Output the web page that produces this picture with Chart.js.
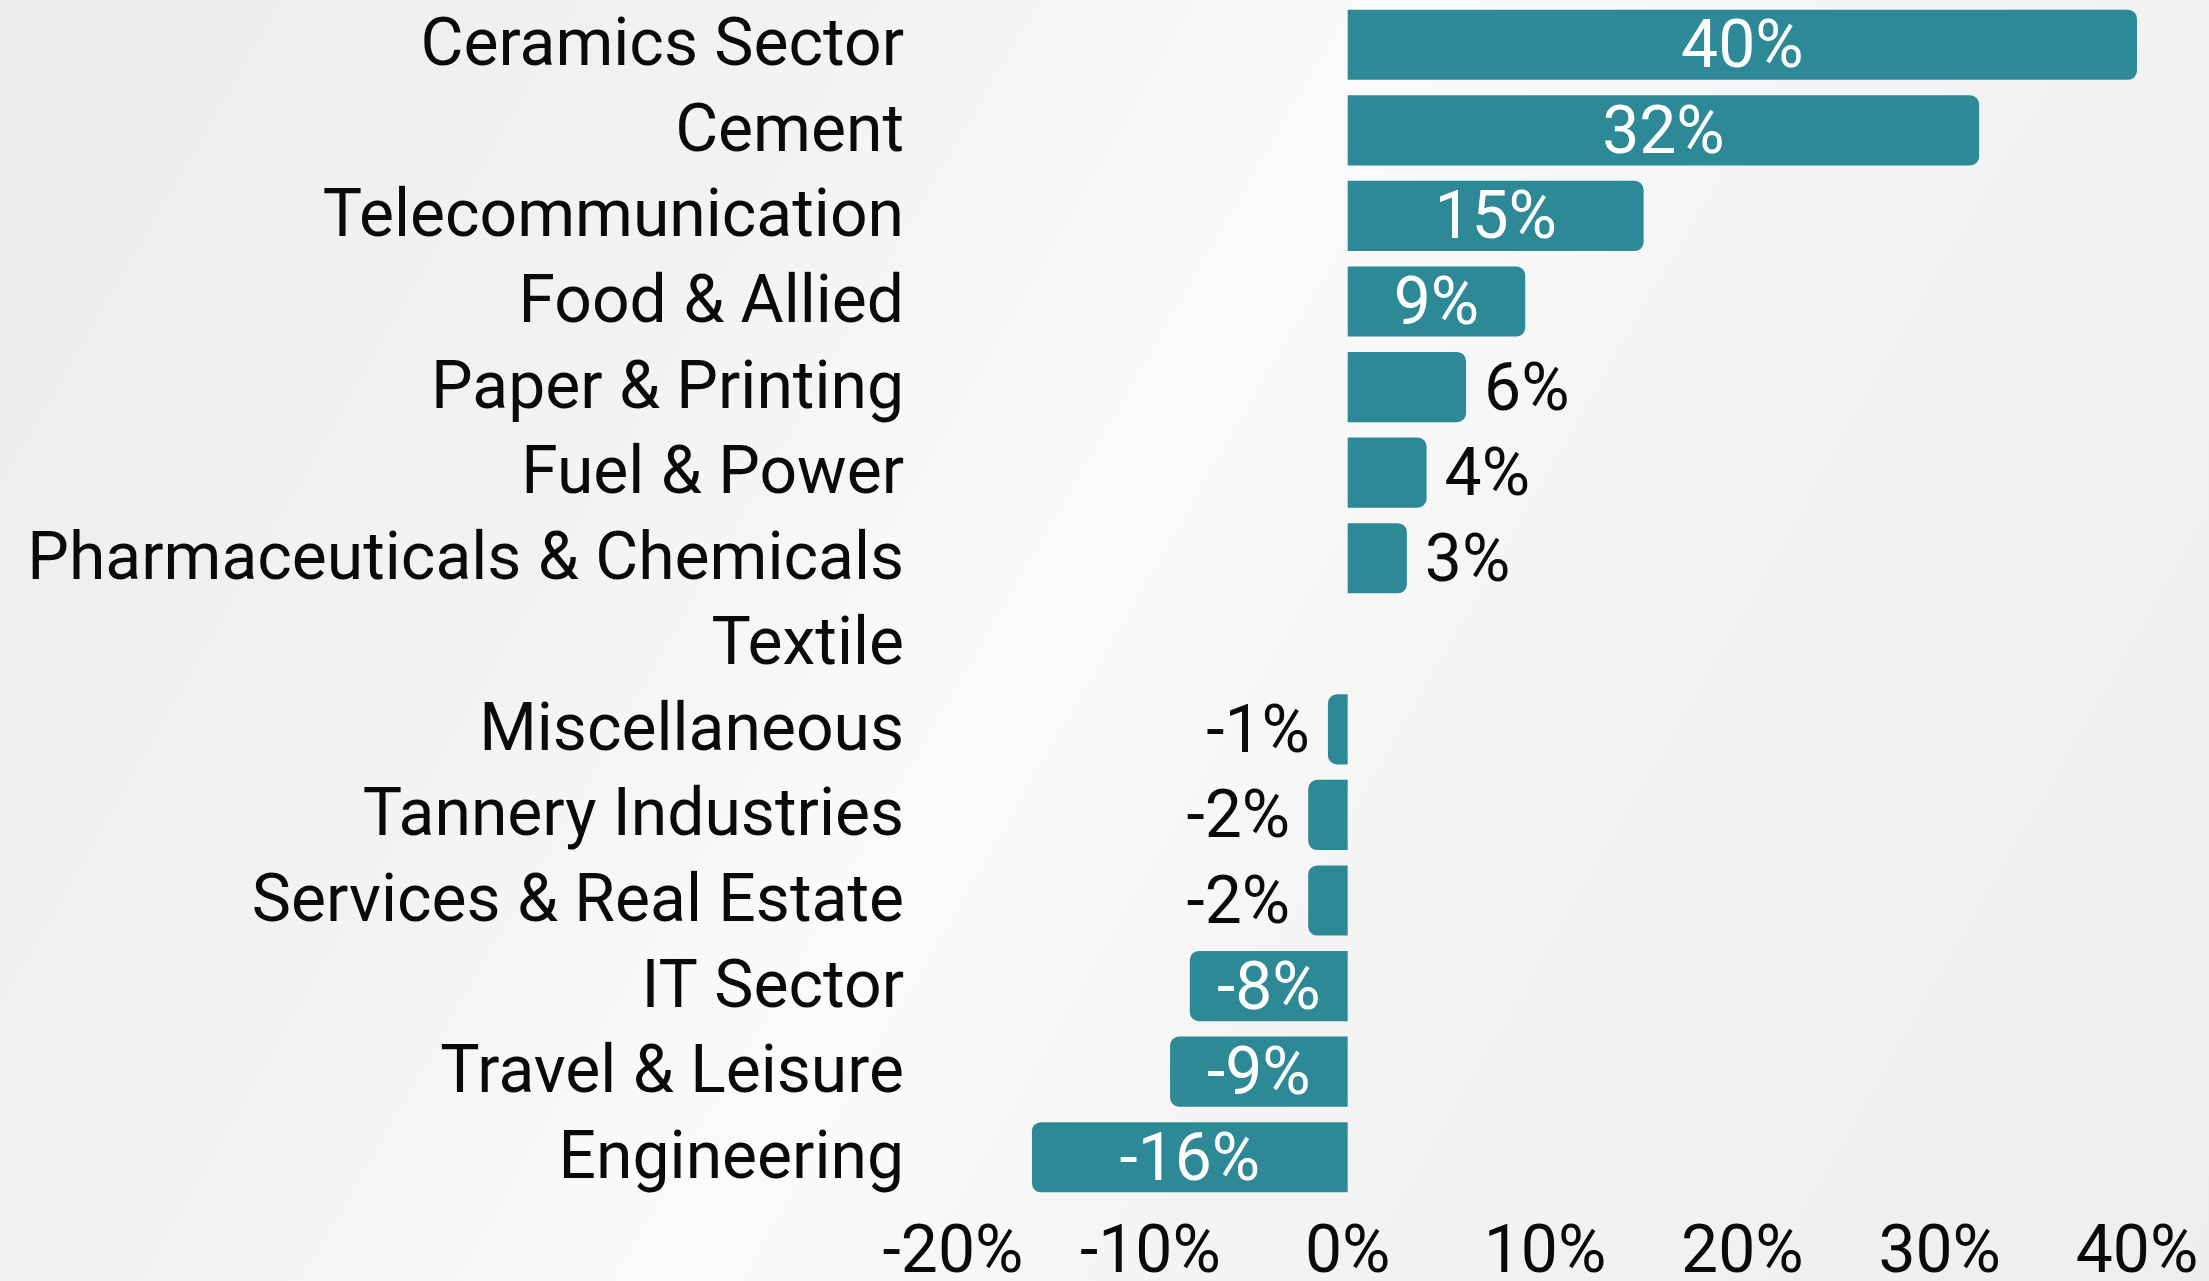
<!DOCTYPE html>
<html lang="en">
<head>
    <meta charset="UTF-8">
    <title>Sector Returns</title>
    <script src="https://cdn.jsdelivr.net/npm/chart.js"></script>
    <style>
        html, body { margin: 0; padding: 0; }
        body {
            width: 2209px;
            height: 1281px;
            overflow: hidden;
            background: linear-gradient(120deg, #ececec 0%, #f3f3f3 30%, #fbfbfb 48%, #f4f4f4 65%, #eeeeee 100%);
        }
        #wrap { position: relative; width: 2209px; height: 1281px; }
        canvas { display: block; }
    </style>
</head>
<body>
    <div id="wrap">
        <canvas id="sectorChart" width="2209" height="1281"></canvas>
    </div>
    <script>
        // data
        const sectors = [
            'Ceramics Sector', 'Cement', 'Telecommunication', 'Food & Allied',
            'Paper & Printing', 'Fuel & Power', 'Pharmaceuticals & Chemicals', 'Textile',
            'Miscellaneous', 'Tannery Industries', 'Services & Real Estate', 'IT Sector',
            'Travel & Leisure', 'Engineering'
        ];
        const returns = [40, 32, 15, 9, 6, 4, 3, 0, -1, -2, -2, -8, -9, -16];
        const tickValues = [-20, -10, 0, 10, 20, 30, 40];

        const barColor = 'rgb(46, 137, 151)';
        const fontFamily = 'Roboto';
        const fontSize = 66;

        // value labels: white inside long bars, black outside short ones
        const barLabels = {
            id: 'barLabels',
            afterDatasetsDraw(chart) {
                const ctx = chart.ctx;
                const meta = chart.getDatasetMeta(0);
                ctx.save();
                ctx.font = fontSize + 'px ' + fontFamily;
                ctx.textBaseline = 'middle';
                meta.data.forEach((bar, i) => {
                    const v = returns[i];
                    if (v === 0) return;
                    const txt = Math.round(v) + '%';
                    const ty = bar.y + 6;
                    if (Math.abs(v) >= 7) {
                        ctx.fillStyle = '#ffffff';
                        ctx.textAlign = 'center';
                        ctx.fillText(txt, (bar.x + bar.base) / 2, ty);
                    } else {
                        ctx.fillStyle = '#0a0a0a';
                        if (v > 0) {
                            ctx.textAlign = 'left';
                            ctx.fillText(txt, bar.x + 18, ty);
                        } else {
                            ctx.textAlign = 'right';
                            ctx.fillText(txt, bar.x - 18, ty);
                        }
                    }
                });
                ctx.restore();
            }
        };

        new Chart(document.getElementById('sectorChart'), {
            type: 'bar',
            data: {
                labels: sectors,
                datasets: [{
                    data: returns,
                    backgroundColor: barColor,
                    borderRadius: 9,
                    borderSkipped: 'start',
                    barPercentage: 0.82,
                    categoryPercentage: 1.0
                }]
            },
            options: {
                indexAxis: 'y',
                responsive: false,
                animation: false,
                devicePixelRatio: 1,
                layout: { padding: { top: 2, right: 72, left: 0, bottom: 0 } },
                plugins: {
                    legend: { display: false },
                    tooltip: { enabled: false }
                },
                scales: {
                    x: {
                        min: -20,
                        max: 40,
                        grid: { display: false, drawTicks: false },
                        border: { display: false },
                        afterBuildTicks(scale) {
                            scale.ticks = tickValues.map(v => ({ value: v }));
                        },
                        afterFit(scale) {
                            scale.height = 81;
                            scale.paddingLeft = 0;
                            scale.paddingRight = 0;
                        },
                        ticks: {
                            padding: 16,
                            color: '#0a0a0a',
                            font: { family: fontFamily, size: fontSize },
                            maxRotation: 0,
                            callback: v => v + '%'
                        }
                    },
                    y: {
                        grid: { display: false, drawTicks: false },
                        border: { display: false },
                        afterFit(scale) {
                            scale.width = 953;
                            scale.paddingTop = 0;
                            scale.paddingBottom = 0;
                        },
                        ticks: {
                            padding: 49,
                            labelOffset: 4,
                            color: '#0a0a0a',
                            font: { family: fontFamily, size: fontSize }
                        }
                    }
                }
            },
            plugins: [barLabels]
        });
    </script>
</body>
</html>
